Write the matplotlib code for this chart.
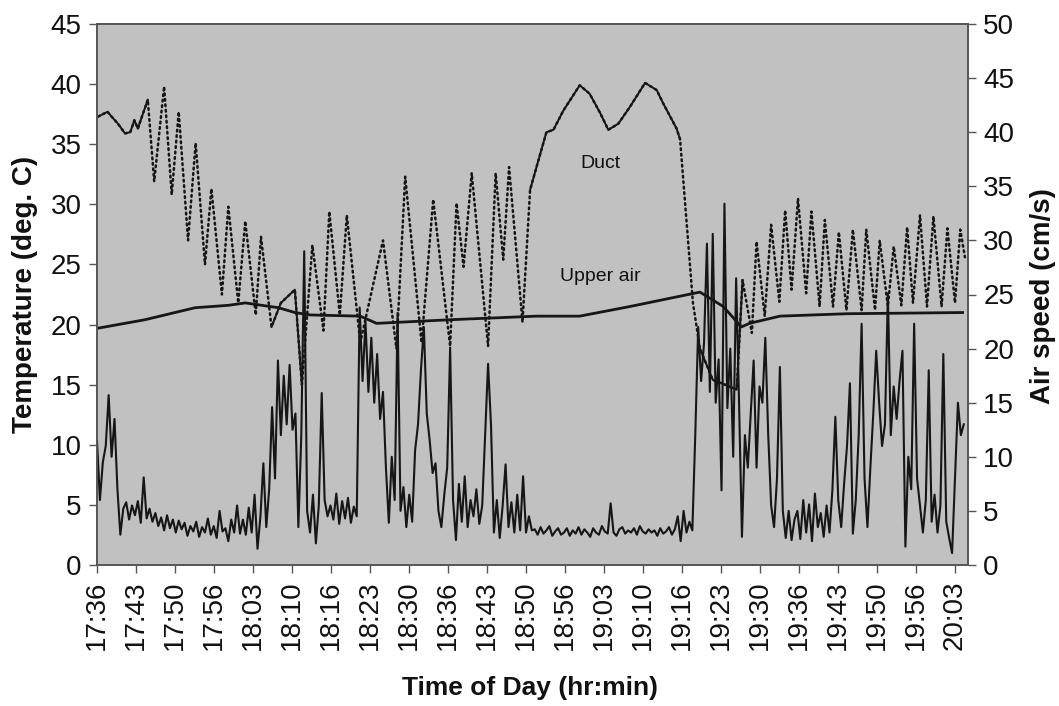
import numpy as np
import matplotlib
matplotlib.use("Agg")
import matplotlib.pyplot as plt
import matplotlib.transforms as mtransforms

plt.rcParams['font.family'] = ['Liberation Sans', 'DejaVu Sans']

# ---------------- data ----------------
# x in minutes after 17:36
tick_labels = ["17:36", "17:43", "17:50", "17:56", "18:03", "18:10", "18:16", "18:23",
               "18:30", "18:36", "18:43", "18:50", "18:56", "19:03", "19:10", "19:16",
               "19:23", "19:30", "19:36", "19:43", "19:50", "19:56", "20:03"]
tick_step_min = 147.0 / 22

duct_time = [0.2, 1.8, 2.5, 3.6, 4.8, 5.7, 6.4, 7.0, 7.7, 8.7,
             9.8, 11.5, 12.8, 14.0, 15.6, 16.9, 18.5, 19.6, 21.4, 22.5,
             24.2, 25.4, 27.2, 28.1, 29.9, 31.5, 33.9, 35.1, 36.9, 38.8,
             39.8, 41.6, 42.8, 45.1, 49.0, 51.3, 52.8, 55.6, 57.6, 60.5,
             61.6, 62.8, 64.2, 67.0, 68.3, 69.6, 70.6, 72.9, 74.2, 75.3,
             77.0, 78.2, 79.9, 82.7, 84.4, 86.2, 87.6, 89.3, 91.3, 93.9,
             95.9, 97.0, 99.3, 99.9, 102.1, 103.3, 105.5, 107.6, 109.6, 110.6,
             112.2, 113.0, 114.4, 115.5, 116.9, 117.9, 119.0, 120.1, 121.5, 122.4,
             123.8, 124.7, 126.1, 127.1, 128.4, 129.5, 131.0, 131.8, 133.3, 134.1,
             135.5, 136.5, 137.8, 138.8, 139.8, 141.0, 142.2, 143.3, 144.7, 145.7,
             147.0, 147.9, 148.7]
duct_temp = [37.3, 37.7, 37.3, 36.7, 35.9, 36.0, 37.0, 36.3, 37.3, 38.7,
             31.9, 39.8, 30.8, 37.7, 27.0, 35.1, 25.0, 31.3, 22.5, 29.8,
             21.8, 28.6, 20.8, 27.3, 19.8, 21.8, 22.9, 15.0, 26.6, 19.5,
             29.4, 20.8, 29.1, 18.5, 27.0, 18.0, 32.3, 18.5, 30.4, 18.2,
             30.1, 24.8, 32.6, 18.2, 32.6, 25.4, 33.1, 20.2, 31.2, 33.1,
             36.0, 36.2, 37.8, 39.9, 39.2, 37.6, 36.2, 36.7, 38.1, 40.1,
             39.5, 38.4, 36.3, 35.4, 21.8, 18.0, 15.4, 15.0, 14.6, 23.7,
             19.3, 26.9, 20.7, 28.3, 21.9, 29.5, 22.9, 30.5, 22.6, 29.4,
             21.5, 28.7, 21.5, 27.7, 21.2, 27.9, 21.2, 27.9, 21.2, 27.0,
             21.5, 26.5, 21.6, 28.1, 21.8, 29.1, 21.5, 29.0, 21.5, 28.0,
             21.8, 27.9, 25.6]
# index ranges of the duct trace drawn as a continuous (solid) line
duct_solid_ranges = [(0, 9), (24, 27), (48, 63), (65, 69)]

upper_time = [0.2, 8.2, 16.8, 22.5, 25.4, 31.1, 33.9, 36.5, 45.1, 47.9,
              60.5, 75.3, 82.7, 91.3, 103.3, 107.3, 110.4, 111.8, 117.0, 128.4, 148.3]
upper_temp = [19.7, 20.4, 21.4, 21.6, 21.8, 21.4, 21.0, 20.8, 20.7, 20.1,
              20.4, 20.7, 20.7, 21.5, 22.7, 21.5, 19.8, 20.1, 20.7, 20.9, 21.0]

# air speed (cm/s), read every half minute from 17:36
speed_vals = [
    11.5, 6.0, 9.5, 11.0, 15.7, 10.0, 13.5, 7.0, 2.8, 5.2,
    5.8, 4.2, 5.5, 4.6, 5.9, 3.9, 8.1, 4.3, 5.2, 4.0,
    4.8, 3.6, 4.4, 3.2, 4.6, 3.4, 4.2, 3.0, 4.1, 3.3,
    3.9, 2.7, 3.6, 3.1, 4.0, 2.6, 3.5, 3.0, 4.3, 2.8,
    3.6, 2.5, 5.0, 3.1, 3.4, 2.2, 4.2, 3.0, 5.5, 2.9,
    4.2, 2.8, 5.3, 3.0, 6.5, 1.5, 4.5, 9.4, 3.5, 7.0,
    14.6, 8.0, 18.9, 12.0, 17.5, 13.0, 18.5, 12.5, 14.0, 3.5,
    12.0, 29.0, 5.0, 3.0, 6.5, 2.0, 5.5, 15.9, 6.0, 4.5,
    5.5, 4.2, 6.6, 3.8, 5.9, 4.3, 6.2, 3.9, 5.4, 4.5,
    23.8, 17.0, 22.5, 16.0, 21.0, 15.0, 19.5, 13.5, 16.0, 9.0,
    3.9, 10.0, 6.0, 23.3, 5.0, 7.2, 3.5, 6.5, 4.0, 10.6,
    13.0, 18.0, 22.0, 14.0, 11.5, 8.5, 9.4, 5.0, 3.5, 6.5,
    9.0, 20.1, 6.0, 2.3, 7.5, 4.0, 8.2, 3.5, 6.0, 4.5,
    7.0, 3.8, 5.5, 12.0, 18.6, 13.0, 3.0, 6.0, 2.5, 5.5,
    9.3, 3.5, 5.8, 3.0, 6.5, 3.2, 8.2, 3.0, 4.5, 3.2,
    3.3, 2.8, 3.5, 2.9, 3.2, 3.6, 2.7, 3.1, 3.4, 2.8,
    3.0, 3.4, 2.7, 3.2, 2.9, 3.5, 2.8, 3.3, 3.0, 2.6,
    3.4, 3.0, 2.8, 3.6, 3.1, 2.9, 5.7, 3.0, 2.7, 3.3,
    3.5, 2.9, 3.2, 3.0, 3.4, 2.8, 3.6, 3.1, 2.9, 3.3,
    3.0, 3.2, 2.7, 3.4, 2.9, 3.1, 3.5, 2.8, 3.3, 4.5,
    2.2, 5.0, 3.0, 4.0, 3.2, 12.0, 22.0, 17.0, 20.5, 29.7,
    16.0, 30.6, 15.0, 19.0, 6.9, 33.4, 14.5, 20.0, 10.0, 26.5,
    15.0, 2.6, 12.0, 9.0, 14.0, 18.9, 9.0, 16.5, 15.0, 21.0,
    12.0, 5.5, 3.5, 8.0, 18.3, 5.0, 2.5, 5.0, 2.3, 4.2,
    5.0, 2.4, 6.0, 3.0, 5.6, 2.2, 6.6, 3.5, 4.8, 2.6,
    5.5, 3.0, 7.0, 13.7, 6.0, 3.5, 7.5, 11.0, 16.8, 2.9,
    6.0, 12.0, 22.3, 8.0, 3.5, 9.0, 14.0, 19.8, 15.0, 11.0,
    13.0, 25.1, 12.0, 16.5, 13.5, 17.0, 19.8, 1.7, 10.0, 7.0,
    22.3, 8.0, 5.5, 3.0, 6.0, 18.0, 4.0, 6.5, 3.0, 5.5,
    19.5, 4.0, 2.5, 1.1, 8.0, 15.0, 12.0, 13.0,
]
speed_step_min = 0.5

# ---------------- figure ----------------
W, H = 1059, 706
fig = plt.figure(figsize=(W / 100, H / 100), dpi=100)
fig.patch.set_facecolor('white')
ax = fig.add_axes([97 / W, 1 - 565 / H, (968 - 97) / W, (565 - 24) / H])
ax.set_facecolor('#c1c1c1')
ax2 = ax.twinx()

line_col = '#161616'

# temperatures (left axis)
ax.plot(duct_time, duct_temp, color=line_col, lw=1.8, ls=(0, (0.7, 1.5)),
        solid_capstyle='round', dash_capstyle='round')
for a, b in duct_solid_ranges:
    ax.plot(duct_time[a:b + 1], duct_temp[a:b + 1], color=line_col, lw=1.4)
ax.plot(upper_time, upper_temp, color=line_col, lw=2.0)

# air speed (right axis)
speed_time = np.arange(len(speed_vals)) * speed_step_min
ax2.plot(speed_time, speed_vals, color=line_col, lw=1.5)

x_max = (968 - 97) / 39.0 * tick_step_min
ax.set_xlim(0, x_max)
ax.set_ylim(0, 45)
ax2.set_ylim(0, 50)
ax.set_yticks(np.arange(0, 46, 5))
ax2.set_yticks(np.arange(0, 51, 5))

tick_pos = np.arange(len(tick_labels)) * tick_step_min
ax.set_xticks(tick_pos)
ax.set_xticklabels(tick_labels, rotation=90, va='top', ha='center')
offset = mtransforms.ScaledTranslation(5 / 100, 0, fig.dpi_scale_trans)
for lab in ax.get_xticklabels():
    lab.set_transform(lab.get_transform() + offset)

tick_fs = 20
ax.tick_params(axis='both', direction='out', length=6, width=1, color='#555555',
               labelsize=tick_fs, pad=5, labelcolor='#111111')
ax2.tick_params(axis='y', direction='out', length=6, width=1, color='#555555',
                labelsize=tick_fs, pad=5, labelcolor='#111111')

for a in (ax, ax2):
    for sp in a.spines.values():
        sp.set_color('#555555')
        sp.set_linewidth(1.2)

# axis titles placed in figure pixels
fig.text(25 / W, 1 - 294 / H, 'Temperature (deg. C)', fontsize=20, fontweight='bold',
         color='#111111', rotation=90, ha='center', va='center')
fig.text(1043 / W, 1 - 296 / H, 'Air speed (cm/s)', fontsize=20, fontweight='bold',
         color='#111111', rotation=90, ha='center', va='center')
fig.text(530 / W, 1 - 688 / H, 'Time of Day (hr:min)', fontsize=19, fontweight='bold',
         color='#111111', ha='center', va='center')

ax.text(86.2, 33.4, 'Duct', fontsize=14, ha='center', va='center', color='#111111')
ax.text(86.3, 24.0, 'Upper air', fontsize=14, ha='center', va='center', color='#111111')

fig.savefig('out.png', dpi=100, facecolor='white')
